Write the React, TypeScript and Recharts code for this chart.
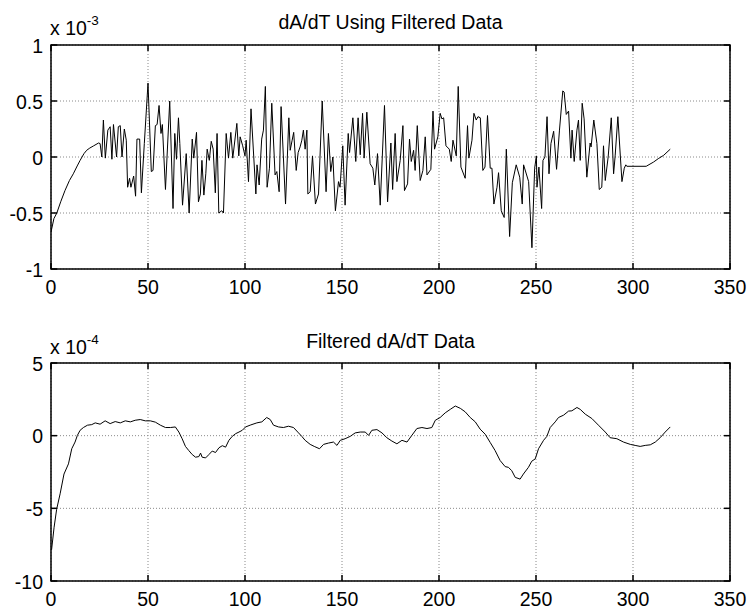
import React from "react";
import { LineChart, Line, XAxis, YAxis, CartesianGrid, ReferenceArea } from "recharts";

// ---- Top panel: dA/dT Using Filtered Data (values in units of 1e-3) ----
const topX = [
  0, 1.5, 3, 5, 7.2, 9.5, 11.5, 13.5, 15, 17, 18.4, 20, 22, 24.5, 25.3, 26.2, 27, 28, 29.3, 30.5,
  31.4, 32.2, 33.8, 34.7, 35.7, 36.6, 37.8, 38.8, 39.5, 40.5, 41.2, 42.6, 43.6, 44.3, 45.7, 46.6, 48.1, 50, 51.7, 52.6,
  53.8, 54.7, 55.7, 56.7, 57.4, 59, 61.2, 62.9, 63.8, 64.7, 65.7, 66.4, 67.8, 69.7, 71.2, 72.8, 73.6, 75, 76, 77,
  77.8, 78.8, 79.8, 80.5, 81.6, 82.6, 83.6, 84.7, 85.6, 86.5, 88, 88.9, 90.3, 91.5, 92.7, 93.7, 95.8, 96.8, 97.5, 98.8,
  100, 100.6, 101.8, 103.1, 105.6, 106.2, 107.3, 108.6, 109.5, 110.5, 111.4, 112.6, 113.8, 115.5, 116.4, 117.6, 118.6, 120.9, 122.6, 123.3,
  124.3, 125.1, 126.4, 127.4, 128.4, 129.3, 130.1, 131, 131.9, 132.4, 133.6, 134.8, 136.3, 137.9, 139.8, 141.8, 143, 144.2, 145.3, 146.6,
  148.2, 149, 150.4, 151.6, 153.2, 153.9, 155.6, 157.1, 158.3, 159.4, 160.6, 161.4, 162.8, 164.5, 165.9, 166.9, 168.3, 169.7, 171.9, 173.5,
  175.2, 176.1, 177.4, 178.3, 180, 181.4, 182.2, 183.8, 184.8, 185.7, 186.9, 187.7, 188.8, 190.3, 191.7, 192.9, 193.8, 195.8, 196.9, 197.7,
  199.4, 200.6, 201.5, 202.4, 203.6, 205.3, 206.3, 207.2, 208.9, 209.9, 211.3, 213.5, 214.7, 215.4, 217, 218, 219.2, 220.1, 221.3, 222.6,
  223.7, 225, 226.4, 227.3, 228.3, 229.9, 230.7, 232.1, 233.6, 234.7, 236.4, 237.8, 239.8, 241.6, 242.9, 243.6, 246.2, 247.9, 249.3, 250.2,
  250.5, 251.5, 252.9, 253.6, 254.6, 255.7, 256.7, 257.7, 259.1, 260.6, 262.1, 263.8, 264.5, 265.6, 266.8, 268, 268.6, 269.7, 271.1, 271.9,
  272.8, 273.8, 274.8, 276.2, 277.9, 278.4, 279.8, 281.4, 282.6, 283.9, 284.8, 285.7, 287.2, 288.8, 290, 290.8, 292.2, 294.3, 295.5, 296.3,
  296.8, 306.8, 310.6, 313, 315.8, 319.2,
];
const topY = [
  -0.67, -0.55, -0.5, -0.4, -0.3, -0.21, -0.15, -0.08, -0.03, 0.03, 0.06, 0.08, 0.1, 0.125, 0.12, 0.0, 0.33, -0.01, 0.24, 0.27,
  -0.02, 0.29, 0, 0.27, 0.28, 0, 0.25, 0.15, -0.27, -0.19, -0.27, -0.17, -0.35, 0.16, 0.16, -0.32, 0.12, 0.66, -0.13, -0.12,
  0.28, 0.29, 0.46, 0.21, 0.29, -0.29, 0.5, -0.46, 0.21, -0.02, 0.35, 0.12, -0.43, 0.03, -0.5, 0.16, -0.01, 0.22, -0.4, -0.33,
  -0.03, -0.34, -0.15, 0.07, -0.03, 0.14, 0.07, -0.32, 0.21, -0.5, -0.48, -0.5, 0.21, -0.01, 0.22, -0.01, 0.3, 0.01, 0.18, 0.1,
  0.01, 0.15, -0.22, 0.43, -0.33, -0.07, -0.25, 0.16, 0.24, 0.63, -0.27, -0.1, 0.48, -0.16, -0.13, -0.31, 0.45, -0.42, 0.35, 0.06,
  0.15, 0.22, -0.12, 0.04, 0.09, 0.15, 0.24, 0.07, 0.24, -0.33, -0.31, 0.01, -0.42, -0.33, 0.5, -0.31, 0.21, -0.13, 0, -0.48,
  -0.22, -0.27, 0.1, -0.43, 0.21, 0.04, 0.35, -0.04, 0.35, 0.02, 0.39, -0.01, 0.4, -0.06, -0.1, -0.25, 0.03, -0.43, 0.46, -0.4,
  0.125, -0.29, 0.21, -0.22, -0.03, 0.28, -0.3, -0.24, 0.16, -0.04, 0.06, -0.12, 0.28, -0.21, -0.12, 0.18, -0.16, -0.11, 0.41, 0.07,
  0.18, 0.39, 0.34, 0.35, 0.1, 0.07, -0.04, 0.15, 0.01, 0.63, -0.09, -0.19, 0.28, -0.01, 0.15, 0.39, 0.33, 0.36, 0.35, -0.12,
  -0.09, 0.37, -0.1, -0.1, -0.42, -0.27, -0.14, -0.48, -0.54, 0.07, -0.71, -0.23, -0.07, -0.18, -0.42, -0.07, -0.22, -0.81, -0.1, 0.01,
  -0.27, -0.09, -0.46, -0.03, 0, 0.36, -0.15, 0.12, 0.23, -0.11, 0.24, 0.59, 0.58, 0.38, 0.41, -0.01, 0.24, -0.04, 0.24, 0.33,
  -0.03, 0.48, 0.34, -0.18, 0.125, 0.09, 0.33, 0.12, -0.29, -0.27, 0.1, -0.21, 0, 0.35, -0.15, 0.01, 0.36, -0.22, -0.1, -0.07,
  -0.083, -0.083, -0.045, -0.015, 0.015, 0.07,
];

// ---- Bottom panel: Filtered dA/dT Data (values in units of 1e-4) ----
const botX = [
  0.3, 1.6, 2.9, 4.7, 6.7, 9, 10.7, 12.4, 13.6, 15, 16.7, 18.8, 21, 22.8, 25.3, 27.9, 30.5, 33.1, 35.7, 38.3,
  40.9, 43.4, 46, 48.6, 51.2, 53.8, 56.4, 59, 61.6, 64.1, 65.9, 67.6, 69.3, 71, 72.8, 74.5, 76.2, 77.1, 77.9, 79.7,
  81.4, 83.1, 84.8, 86.6, 88.3, 90, 91.7, 93.4, 95.2, 96.9, 98.6, 100.3, 103, 106.1, 108.7, 111.2, 113, 114.7, 117.3, 119.8,
  122.4, 125, 127.6, 129.3, 131, 133.6, 135.7, 138.4, 140.5, 143, 145.6, 147.4, 149.1, 151.6, 154.2, 156.8, 159.4, 162, 163.7, 165.4,
  168, 170.6, 173.1, 175.7, 178.3, 180.9, 183.5, 186, 188.6, 191.2, 193.8, 196.3, 198.1, 200.6, 203.2, 205.8, 208.4, 211, 213.5, 216.1,
  218.7, 221.2, 223.8, 226.4, 228.9, 231.5, 234.1, 235.8, 237.5, 239.3, 241.8, 243.5, 246.1, 247.8, 249.6, 251.3, 253.9, 255.6, 257.3, 259.9,
  261.6, 264.2, 266.8, 268.5, 271.1, 272.8, 275.4, 278.8, 282.2, 285.7, 288.2, 291.7, 295.1, 298.6, 301.1, 303.7, 306.3, 308.9, 311.5, 314,
  316.6, 319.2,
];
const botY = [
  -7.85, -6.3, -5.07, -4.0, -2.64, -1.94, -0.9, -0.44, 0.02, 0.37, 0.56, 0.72, 0.76, 0.88, 0.79, 1.02, 0.83, 0.97, 0.88, 1.02,
  0.95, 1.06, 1.11, 1.02, 1.02, 0.93, 0.72, 0.56, 0.56, 0.6, 0.25, -0.21, -0.74, -1.02, -1.3, -1.48, -1.44, -1.2, -1.48, -1.53,
  -1.3, -1.06, -1.16, -0.83, -0.69, -0.79, -0.32, -0.05, 0.14, 0.25, 0.37, 0.6, 0.74, 0.88, 0.95, 1.25, 1.11, 0.72, 0.6, 0.56,
  0.65, 0.56, 0.19, -0.05, -0.32, -0.6, -0.74, -0.9, -0.6, -0.51, -0.44, -0.67, -0.32, -0.21, -0.05, 0.19, 0.25, 0.25, 0.02, 0.37,
  0.42, 0.19, -0.14, -0.37, -0.56, -0.32, -0.44, 0.02, 0.49, 0.56, 0.49, 0.56, 1.06, 1.25, 1.57, 1.81, 2.04, 1.88, 1.64, 1.25,
  0.95, 0.45, 0.1, -0.47, -1.02, -1.71, -2.13, -2.18, -2.41, -2.87, -2.99, -2.64, -2.18, -1.76, -1.6, -0.9, -0.32, -0.05, 0.56, 0.95,
  1.25, 1.41, 1.69, 1.71, 1.94, 1.81, 1.48, 1.18, 0.72, 0.25, -0.14, -0.21, -0.44, -0.6, -0.67, -0.74, -0.67, -0.63, -0.44, -0.14,
  0.25, 0.6,
];

const xTicks = [0, 50, 100, 150, 200, 250, 300, 350];
const topYTicks = [-1, -0.5, 0, 0.5, 1];
const botYTicks = [-10, -5, 0, 5];

const topTitle = "dA/dT Using Filtered Data";
const botTitle = "Filtered dA/dT Data";
const topExp = "-3";
const botExp = "-4";

const topData = topX.map((x, i) => ({ x, y: topY[i] }));
const botData = botX.map((x, i) => ({ x, y: botY[i] }));

const FONT = "'Liberation Sans', Arial, Helvetica, sans-serif";
const FS = 19.5;
const TL = 6;
const INK = "#000000";

const BottomTick = (p: any) => (
  <g>
    <line x1={p.x} y1={p.y} x2={p.x} y2={p.y - TL} stroke={INK} strokeWidth={1.5} />
    <text x={p.x} y={p.y + 25} textAnchor="middle" fontSize={FS} fontFamily={FONT} fill="#000">
      {p.payload.value}
    </text>
  </g>
);
const TopTick = (p: any) => (
  <line x1={p.x} y1={p.y} x2={p.x} y2={p.y + TL} stroke={INK} strokeWidth={1.5} />
);
const LeftTick = (p: any) => (
  <g>
    <line x1={p.x} y1={p.y} x2={p.x + TL} y2={p.y} stroke={INK} strokeWidth={1.5} />
    <text x={p.x - 8} y={p.y + 7.5} textAnchor="end" fontSize={FS} fontFamily={FONT} fill="#000">
      {p.payload.value}
    </text>
  </g>
);
const RightTick = (p: any) => (
  <line x1={p.x} y1={p.y} x2={p.x - TL} y2={p.y} stroke={INK} strokeWidth={1.5} />
);

function Panel(props: {
  data: { x: number; y: number }[];
  yDomain: [number, number];
  yTicks: number[];
  height: number;
  mTop: number;
  mBottom: number;
}) {
  const { data, yDomain, yTicks, height, mTop, mBottom } = props;
  const common = {
    interval: 0 as const,
    tickSize: 0,
    tickMargin: 0,
    tickLine: false,
    axisLine: false,
    allowDataOverflow: true,
  };
  return (
    <LineChart
      width={751}
      height={height}
      data={data}
      margin={{ top: mTop - 1, right: 20, bottom: mBottom - 1, left: 50 }}
    >
      <CartesianGrid stroke="#8a8a8a" strokeDasharray="1 2" />
      <XAxis dataKey="x" type="number" domain={[0, 350]} ticks={xTicks} height={1} tick={BottomTick} {...common} />
      <XAxis
        xAxisId="top"
        orientation="top"
        dataKey="x"
        type="number"
        domain={[0, 350]}
        ticks={xTicks}
        height={1}
        tick={TopTick}
        {...common}
      />
      <YAxis type="number" domain={yDomain} ticks={yTicks} width={1} tick={LeftTick} {...common} />
      <YAxis
        yAxisId="right"
        orientation="right"
        type="number"
        domain={yDomain}
        ticks={yTicks}
        width={1}
        tick={RightTick}
        {...common}
      />
      <ReferenceArea
        x1={0}
        x2={350}
        y1={yDomain[0]}
        y2={yDomain[1]}
        fill="none"
        stroke={INK}
        strokeWidth={1.5}
        ifOverflow="visible"
      />
      <Line dataKey="y" type="linear" stroke="#000" strokeWidth={1} dot={false} isAnimationActive={false} />
    </LineChart>
  );
}

export default function App() {
  return (
    <div
      style={{
        position: "absolute",
        left: 0,
        top: 0,
        width: 751,
        height: 609,
        background: "#fff",
        fontFamily: FONT,
        overflow: "hidden",
      }}
    >
      <style>{`html,body{margin:0;overflow:hidden}`}</style>
      <div style={{ position: "absolute", left: 0, top: 0 }}>
        <Panel data={topData} yDomain={[-1, 1]} yTicks={topYTicks} height={300} mTop={45} mBottom={31} />
      </div>
      <div style={{ position: "absolute", left: 0, top: 300 }}>
        <Panel data={botData} yDomain={[-10, 5]} yTicks={botYTicks} height={309} mTop={63} mBottom={28} />
      </div>
      <svg
        width={751}
        height={609}
        style={{ position: "absolute", left: 0, top: 0, pointerEvents: "none" }}
      >
        <text x={390.5} y={29} textAnchor="middle" fontSize={FS} fontFamily={FONT} fill="#000">
          {topTitle}
        </text>
        <text x={50} y={35} fontSize={FS} fontFamily={FONT} fill="#000">
          x 10
          <tspan dy={-10} fontSize={13.5}>
            {topExp}
          </tspan>
        </text>
        <text x={390.5} y={348} textAnchor="middle" fontSize={FS} fontFamily={FONT} fill="#000">
          {botTitle}
        </text>
        <text x={50} y={354} fontSize={FS} fontFamily={FONT} fill="#000">
          x 10
          <tspan dy={-10} fontSize={13.5}>
            {botExp}
          </tspan>
        </text>
      </svg>
    </div>
  );
}
